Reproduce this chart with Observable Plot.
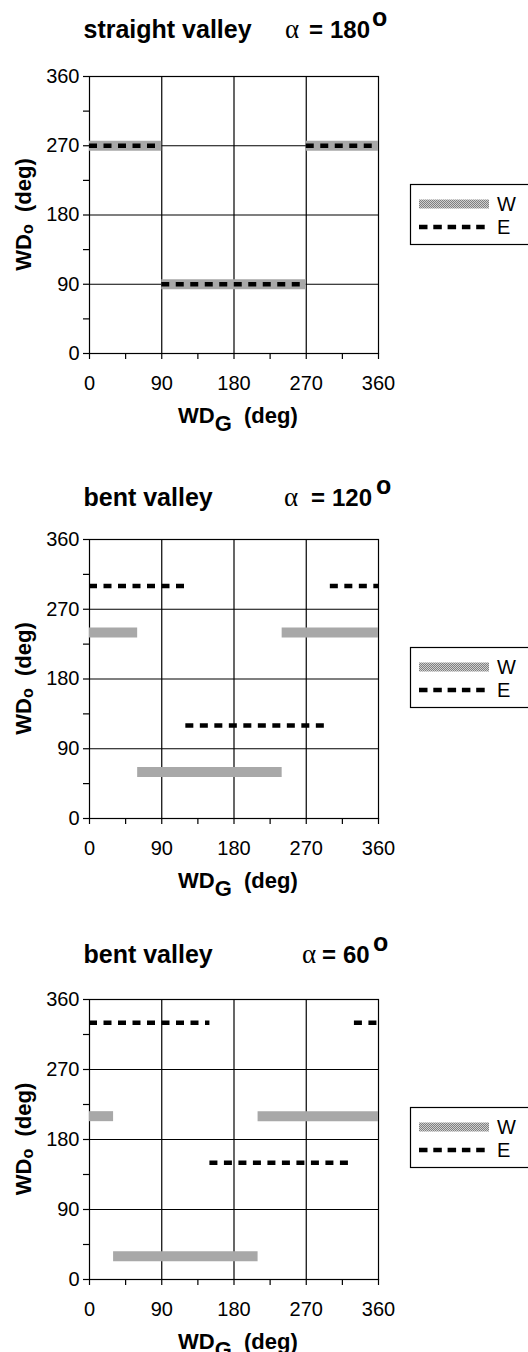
<!DOCTYPE html>
<html><head><meta charset="utf-8">
<script src="https://cdn.jsdelivr.net/npm/d3@7"></script>
<script src="https://cdn.jsdelivr.net/npm/@observablehq/plot@0.6"></script>
<style>
html,body{margin:0;padding:0;background:#fff;overflow:hidden;width:528px;height:1352px}
.panel{position:absolute;left:0}
svg text{font-family:"Liberation Sans",Arial,sans-serif}
</style></head><body>
<svg width="0" height="0" style="position:absolute">
  <defs>
    <pattern id="stip" patternUnits="userSpaceOnUse" width="2" height="2">
      <rect width="2" height="2" fill="#cfcfcf"/>
      <rect width="1" height="1" fill="#808080"/>
      <rect x="1" y="1" width="1" height="1" fill="#808080"/>
    </pattern>
  </defs>
</svg>
<script>
// ---- data ----
const panelTitles = ["straight valley", "bent valley", "bent valley"];
const panelAlphas = ["180", "120", "60"];

const wStart180 = [0, 90, 270], wEnd180 = [90, 270, 360], wdoW180 = [270, 90, 270];
const eStart180 = [0, 90, 270], eEnd180 = [90, 270, 360], wdoE180 = [270, 90, 270];

const wStart120 = [0, 60, 240], wEnd120 = [60, 240, 360], wdoW120 = [240, 60, 240];
const eStart120 = [0, 120, 300], eEnd120 = [120, 300, 360], wdoE120 = [300, 120, 300];

const wStart60 = [0, 30, 210], wEnd60 = [30, 210, 360], wdoW60 = [210, 30, 210];
const eStart60 = [0, 150, 330], eEnd60 = [150, 330, 360], wdoE60 = [330, 150, 330];

const tickValues = [0, 45, 90, 135, 180, 225, 270, 315, 360];
const tickLabels = [0, 90, 180, 270, 360];
const gridValues = [90, 180, 270];
const legendNames = ["W", "E"];

// ---- layout ----
const panels = [
  {top: 0,   h: 277, titleY: 38, alphaX: 285, eqX: 309, numX: 330, oX: 372,
   W: [wStart180, wEnd180, wdoW180], E: [eStart180, eEnd180, wdoE180]},
  {top: 463, h: 279, titleY: 43, alphaX: 284, eqX: 311, numX: 332, oX: 376,
   W: [wStart120, wEnd120, wdoW120], E: [eStart120, eEnd120, wdoE120]},
  {top: 923, h: 280, titleY: 40, alphaX: 302, eqX: 322, numX: 343, oX: 373,
   W: [wStart60, wEnd60, wdoW60], E: [eStart60, eEnd60, wdoE60]}
];

const rows = (a) => a[0].map((s, i) => ({x1: s, x2: a[1][i], y: a[2][i]}));

panels.forEach((p, k) => {
  const mt = 76, mb = 80;
  const chart = Plot.plot({
    width: 528, height: mt + p.h + mb,
    marginTop: mt, marginBottom: mb, marginLeft: 89, marginRight: 150,
    x: {domain: [0, 360]},
    y: {domain: [0, 360]},
    style: {fontFamily: '"Liberation Sans", Arial, sans-serif', fontSize: "20px", color: "#000", background: "transparent", overflow: "visible"},
    marks: [
      Plot.gridX(gridValues, {stroke: "#000", strokeOpacity: 1, strokeWidth: 1.2}),
      Plot.gridY(gridValues, {stroke: "#000", strokeOpacity: 1, strokeWidth: 1.2}),
      Plot.frame({stroke: "#000", strokeWidth: 1.2}),
      Plot.ruleY(rows(p.W), {x1: "x1", x2: "x2", y: "y", stroke: "url(#stip)", strokeWidth: 10}),
      Plot.ruleY(rows(p.E), {x1: "x1", x2: "x2", y: "y", stroke: "#000", strokeWidth: 4.5, strokeDasharray: "8,6.5"}),
      Plot.axisX({ticks: tickValues, tickFormat: d => tickLabels.includes(d) ? String(d) : "", tickSize: 6, tickPadding: 16, fontSize: 20, label: null, strokeWidth: 1.2}),
      Plot.axisY({ticks: tickValues, tickFormat: d => tickLabels.includes(d) ? String(d) : "", tickSize: 6, tickPadding: 4, fontSize: 20, label: null, strokeWidth: 1.2})
    ]
  });
  const wrap = document.createElement("div");
  wrap.className = "panel";
  wrap.style.top = p.top + "px";
  wrap.appendChild(chart);
  document.body.appendChild(wrap);

  const svg = d3.select(chart);
  // title
  svg.append("text").attr("x", 83.5).attr("y", p.titleY).attr("text-anchor", "start")
    .attr("font-size", 25).attr("font-weight", "bold").text(panelTitles[k]);
  const t2 = svg.append("text").attr("y", p.titleY).attr("font-size", 24).attr("text-anchor", "start");
  t2.append("tspan").attr("x", p.alphaX).attr("font-family", '"Liberation Serif", serif').attr("font-size", 27).text("α");
  t2.append("tspan").attr("x", p.eqX).attr("font-weight", "bold").text("=");
  t2.append("tspan").attr("x", p.numX).attr("font-weight", "bold").text(panelAlphas[k]);
  t2.append("tspan").attr("x", p.oX).attr("dy", -12).attr("font-weight", "bold").attr("font-size", 25).text("o");

  const bottom = mt + p.h;
  // x-axis title
  const xt = svg.append("text").attr("x", 178).attr("y", bottom + 70).attr("text-anchor", "start")
    .attr("font-size", 22).attr("font-weight", "bold").style("white-space", "pre");
  xt.append("tspan").text("WD");
  xt.append("tspan").attr("dy", 8).text("G");
  xt.append("tspan").attr("dy", -8).text("  (deg)");

  // y-axis title
  const cy = mt + p.h / 2;
  const yt = svg.append("text").attr("transform", `translate(31,${cy}) rotate(-90)`)
    .attr("text-anchor", "middle").attr("font-size", 22).attr("font-weight", "bold").style("white-space", "pre");
  yt.append("tspan").text("WD");
  yt.append("tspan").attr("dy", 2).attr("font-size", 16).text("o");
  yt.append("tspan").attr("dy", -2).text("  (deg)");

  // legend
  const ly = mt + 108;
  const lg = svg.append("g").attr("text-anchor", "start");
  lg.append("rect").attr("x", 410.5).attr("y", ly + 0.5).attr("width", 130).attr("height", 60)
    .attr("fill", "#fff").attr("stroke", "#000").attr("stroke-width", 1.2);
  lg.append("line").attr("x1", 419).attr("x2", 489).attr("y1", ly + 20).attr("y2", ly + 20)
    .attr("stroke", "url(#stip)").attr("stroke-width", 9);
  lg.append("line").attr("x1", 419).attr("x2", 489).attr("y1", ly + 43).attr("y2", ly + 43)
    .attr("stroke", "#000").attr("stroke-width", 4.5).attr("stroke-dasharray", "8.5,5.8");
  lg.append("text").attr("x", 497).attr("y", ly + 20).attr("dy", "0.35em").attr("font-size", 20).text(legendNames[0]);
  lg.append("text").attr("x", 497).attr("y", ly + 43).attr("dy", "0.35em").attr("font-size", 20).text(legendNames[1]);
});
</script>
</body></html>
